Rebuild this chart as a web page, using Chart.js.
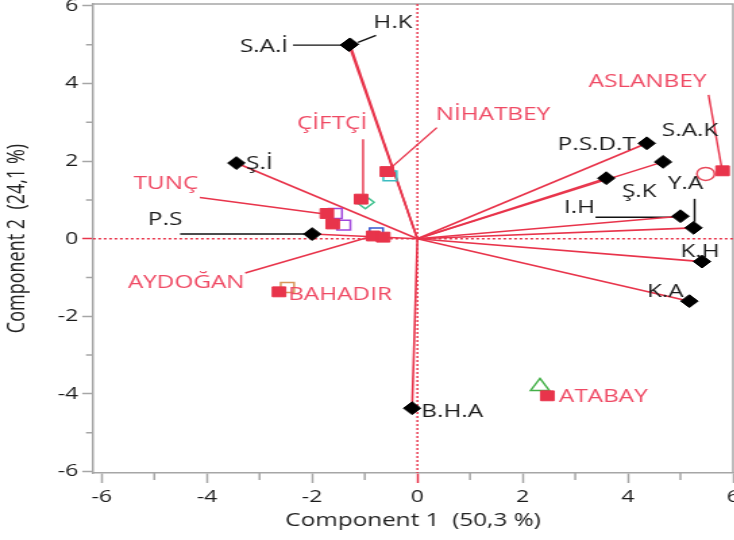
<!DOCTYPE html>
<html>
<head>
<meta charset="utf-8">
<script src="https://cdn.jsdelivr.net/npm/chart.js@4.4.1/dist/chart.umd.min.js"></script>
<style>
  html, body { margin: 0; padding: 0; background: #fff; width: 734px; height: 540px; overflow: hidden; }
  #wrap { width: 544px; height: 540px; transform: scaleX(1.35); transform-origin: 0 0; }
  canvas { display: block; }
</style>
</head>
<body>
<div id="wrap"><canvas id="pca" width="544" height="540"></canvas></div>
<script>
// the original picture is stretched sideways, so the canvas is too
const SX = 1.35;

// variables (black diamonds, rays from origin)
const varNames = ["H.K", "S.A.İ", "Ş.İ", "P.S", "P.S.D.T", "S.A.K", "Ş.K", "I.H", "Y.A", "K.H", "K.A", "B.H.A"];
const varX = [-1.28, -1.30, -3.44, -2.00, 4.36, 4.67, 3.59, 5.00, 5.25, 5.41, 5.17, -0.10];
const varY = [5.01, 4.99, 1.95, 0.12, 2.46, 1.98, 1.56, 0.58, 0.28, -0.59, -1.61, -4.37];

// observations (red squares)
const obsNames = ["ASLANBEY", "NİHATBEY", "ÇİFTÇİ", "TUNÇ", "", "AYDOĞAN", "", "BAHADIR", "ATABAY"];
const obsX = [5.80, -0.58, -1.07, -1.72, -1.61, -0.84, -0.65, -2.63, 2.47];
const obsY = [1.75, 1.73, 1.02, 0.65, 0.38, 0.07, 0.04, -1.37, -4.05];

// open markers
const openX = [5.48, -0.52, -0.99, -1.56, -1.40, -0.78, -2.47, 2.33];
const openY = [1.67, 1.62, 0.94, 0.65, 0.35, 0.15, -1.26, -3.81];

const xTicks = [-6, -5, -4, -3, -2, -1, 0, 1, 2, 3, 4, 5, 6];
const yTicks = [-6, -5, -4, -3, -2, -1, 0, 1, 2, 3, 4, 5, 6];

// styles
const RED = "#e8344b";
const LABEL_RED = "#ef4a64";
const GRAY = "#a6a6a6";
const FONT = "'Open Sans', 'Noto Sans', sans-serif";
const openStyle = [
  { shape: "circle", color: "#e84a5c", r: 6.5 },
  { shape: "rect", color: "#3cbcc0", r: 7 },
  { shape: "rectRot", color: "#3cc08c", r: 6.5 },
  { shape: "rect", color: "#a044dc", r: 7 },
  { shape: "rect", color: "#a044dc", r: 7 },
  { shape: "rect", color: "#3858d0", r: 7 },
  { shape: "rect", color: "#d8965a", r: 7 },
  { shape: "triangle", color: "#44b048", r: 8 },
];

// label placement, screen px offset from the marker
const labelPos = {
  "H.K": [43, -21], "S.A.İ": [-85, 2], "Ş.İ": [23, 1], "P.S": [-147, -14],
  "P.S.D.T": [-50, 2], "S.A.K": [27, -31], "Ş.K": [33, 14], "I.H": [-101, -8],
  "Y.A": [-8, -44], "K.H": [-2, -10], "K.A": [-24, -9], "B.H.A": [40, 4],
  "ASLANBEY": [-75, -89], "NİHATBEY": [106, -57], "ÇİFTÇİ": [-29, -75],
  "TUNÇ": [-161, -30], "AYDOĞAN": [-187, 47], "BAHADIR": [61, 3], "ATABAY": [56, 1],
};
// leader lines, screen px offsets from the marker
const leaders = {
  "S.A.İ": [-56, 0, -6, 0], "H.K": [8, -2, 26, -9], "P.S": [-132, 0, -8, 0],
  "I.H": [-85, 1, -8, 1], "Y.A": [1, -29, 1, -6],
  "ASLANBEY": [-14, -76, -1, -4], "NİHATBEY": [50, -44, 2, -2], "ÇİFTÇİ": [2, -60, 2, -5],
  "TUNÇ": [-127, -16, -6, 0], "AYDOĞAN": [-128, 37, -4, 1],
};

const rays = varNames.map((n, i) => ({
  type: "line",
  data: [{ x: 0, y: 0 }, { x: varX[i], y: varY[i] }],
  borderColor: RED,
  borderWidth: 1.6,
  pointRadius: 0,
  order: 5,
}));

function eachPoint(chart, names, xs, ys, fn) {
  const { x, y } = chart.scales;
  names.forEach((n, i) => {
    if (n) fn(n, x.getPixelForValue(xs[i]), y.getPixelForValue(ys[i]));
  });
}

const biplotDecor = {
  id: "biplotDecor",
  beforeDatasetsDraw(chart) {
    const { ctx, chartArea: a, scales: { x, y } } = chart;
    ctx.save();
    // top and right frame
    ctx.strokeStyle = GRAY;
    ctx.lineWidth = 1.5;
    ctx.beginPath();
    ctx.moveTo(a.left, a.top);
    ctx.lineTo(a.right, a.top);
    ctx.lineTo(a.right, a.bottom);
    ctx.stroke();
    // zero reference lines
    const x0 = x.getPixelForValue(0), y0 = y.getPixelForValue(0);
    ctx.strokeStyle = RED;
    ctx.lineWidth = 1.4;
    ctx.setLineDash([2, 2]);
    ctx.beginPath();
    ctx.moveTo(x0, a.top); ctx.lineTo(x0, a.bottom);
    ctx.moveTo(a.left, y0); ctx.lineTo(a.right, y0);
    ctx.stroke();
    ctx.setLineDash([]);
    // leader lines
    ctx.lineWidth = 1.4;
    const drawLeader = color => (n, px, py) => {
      const l = leaders[n];
      if (!l) return;
      ctx.strokeStyle = color;
      ctx.beginPath();
      ctx.moveTo(px + l[0] / SX, py + l[1]);
      ctx.lineTo(px + l[2] / SX, py + l[3]);
      ctx.stroke();
    };
    eachPoint(chart, varNames, varX, varY, drawLeader("#111"));
    eachPoint(chart, obsNames, obsX, obsY, drawLeader(RED));
    ctx.restore();
  },
  afterDatasetsDraw(chart) {
    const ctx = chart.ctx;
    ctx.save();
    ctx.font = "18px " + FONT;
    ctx.textAlign = "center";
    ctx.textBaseline = "middle";
    const drawLabel = color => (n, px, py) => {
      const p = labelPos[n];
      ctx.fillStyle = color;
      ctx.fillText(n, px + p[0] / SX, py + p[1]);
    };
    eachPoint(chart, varNames, varX, varY, drawLabel("#1a1a1a"));
    eachPoint(chart, obsNames, obsX, obsY, drawLabel(LABEL_RED));
    ctx.restore();
  },
  afterDraw(chart) {
    // short minor ticks at odd values
    const { ctx, chartArea: a, scales: { x, y } } = chart;
    ctx.save();
    ctx.strokeStyle = GRAY;
    ctx.lineWidth = 1.5;
    ctx.beginPath();
    xTicks.filter(v => v % 2).forEach(v => {
      const px = x.getPixelForValue(v);
      ctx.moveTo(px, a.bottom); ctx.lineTo(px, a.bottom + 7);
    });
    yTicks.filter(v => v % 2).forEach(v => {
      const py = y.getPixelForValue(v);
      ctx.moveTo(a.left, py); ctx.lineTo(a.left - 7 / SX, py);
    });
    ctx.stroke();
    ctx.restore();
  },
};

const tickColor = c => {
  const v = c.tick ? c.tick.value : 1;
  if (v === 0) return RED;
  return v % 2 ? "rgba(0,0,0,0)" : GRAY;
};

new Chart(document.getElementById("pca"), {
  type: "scatter",
  data: {
    datasets: [
      ...rays,
      {
        data: openX.map((v, i) => ({ x: v, y: openY[i] })),
        pointStyle: openStyle.map(s => s.shape),
        pointRadius: openStyle.map(s => s.r),
        pointBorderColor: openStyle.map(s => s.color),
        pointBackgroundColor: "rgba(255,255,255,0)",
        pointBorderWidth: 1.5,
        order: 3,
      },
      {
        data: obsX.map((v, i) => ({ x: v, y: obsY[i] })),
        pointStyle: "rect",
        pointRadius: 7,
        pointBackgroundColor: RED,
        pointBorderColor: RED,
        pointBorderWidth: 1,
        order: 2,
      },
      {
        data: varX.map((v, i) => ({ x: v, y: varY[i] })),
        pointStyle: "rectRot",
        pointRadius: 6.4,
        pointBackgroundColor: "#000",
        pointBorderColor: "#000",
        pointBorderWidth: 1,
        order: 1,
      },
    ],
  },
  options: {
    responsive: false,
    animation: false,
    events: [],
    layout: { autoPadding: false, padding: { left: 0, right: 1, top: 4, bottom: 0 } },
    plugins: { legend: { display: false }, tooltip: { enabled: false } },
    scales: {
      x: {
        type: "linear",
        min: -6.165,
        max: 6.0,
        afterBuildTicks: s => { s.ticks = xTicks.map(v => ({ value: v })); },
        afterFit: s => { s.paddingLeft = 0; s.paddingRight = 0; s.height = 67; },
        ticks: {
          autoSkip: false,
          maxRotation: 0,
          padding: 4,
          color: "#1a1a1a",
          font: { family: FONT, size: 17 },
          callback: v => (v % 2 === 0 ? String(v) : ""),
        },
        grid: { drawOnChartArea: false, tickLength: 10, tickWidth: 1.5, tickColor: tickColor },
        border: { color: GRAY, width: 1.5 },
        title: {
          display: true,
          text: "Component 1  (50,3 %)",
          color: "#222",
          font: { family: FONT, size: 18 },
          padding: { top: 0, bottom: 8 },
        },
      },
      y: {
        type: "linear",
        min: -6.04,
        max: 6.05,
        afterBuildTicks: s => { s.ticks = yTicks.map(v => ({ value: v })); },
        afterFit: s => { s.paddingTop = 0; s.paddingBottom = 0; s.width = 93 / SX; },
        ticks: {
          autoSkip: false,
          padding: 3,
          color: "#1a1a1a",
          font: { family: FONT, size: 17 },
          callback: v => (v % 2 === 0 ? String(v) : ""),
        },
        grid: { drawOnChartArea: false, tickLength: 8, tickWidth: 1.5, tickColor: tickColor },
        border: { color: GRAY, width: 1.5 },
        title: {
          display: true,
          text: "Component 2  (24,1 %)",
          color: "#222",
          font: { family: FONT, size: 18 },
          padding: { top: 2, bottom: 0 },
        },
      },
    },
  },
  plugins: [biplotDecor],
});
</script>
</body>
</html>
